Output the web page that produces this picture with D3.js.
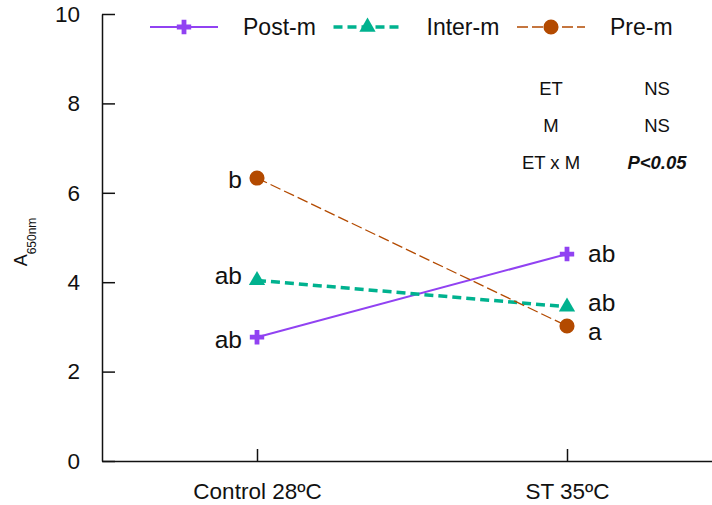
<!DOCTYPE html>
<html>
<head>
<meta charset="utf-8">
<script src="https://cdn.jsdelivr.net/npm/d3@7"></script>
<style>
  body { margin: 0; background: #fff; }
  text { font-family: "Liberation Sans", Arial, sans-serif; fill: #111; }
</style>
</head>
<body>
<div id="graphContainer"></div>
<script>
// chart values
const categories = ["Control 28ºC", "ST 35ºC"];
const seriesNames = ["Post-m", "Inter-m", "Pre-m"];
const postM = [2.77, 4.63];
const interM = [4.04, 3.45];
const preM = [6.33, 3.02];
const postLetters = ["ab", "ab"];
const interLetters = ["ab", "ab"];
const preLetters = ["b", "a"];
const yTicks = [0, 2, 4, 6, 8, 10];
const statRows = ["ET", "M", "ET x M"];
const statValues = ["NS", "NS", "P<0.05"];

const W = 712, H = 505;
const margin = { top: 14, left: 102, bottom: 44 };

const svg = d3.select("#graphContainer").append("svg")
    .attr("width", W)
    .attr("height", H);

const x = d3.scalePoint().domain(categories).range([margin.left, 722]).padding(0.5);
const y = d3.scaleLinear().domain([0, 10]).range([H - margin.bottom, margin.top]);

// axes
const yAxis = svg.append("g")
    .attr("transform", `translate(${margin.left},0)`)
    .call(d3.axisLeft(y).tickValues(yTicks).tickSizeInner(-13).tickSizeOuter(0).tickPadding(22));

const xAxis = svg.append("g")
    .attr("transform", `translate(0,${H - margin.bottom})`)
    .call(d3.axisBottom(x).tickSizeInner(-12).tickSizeOuter(0).tickPadding(23));

svg.selectAll(".domain, .tick line")
    .style("stroke", "#111")
    .style("stroke-width", "1.5px");
svg.selectAll(".tick text")
    .style("font-size", "22.5px")
    .style("font-family", "Liberation Sans, Arial, sans-serif")
    .attr("fill", "#111");
xAxis.selectAll(".tick text").attr("dy", "0.68em");

// y label with subscript
const yLab = svg.append("text")
    .attr("transform", "translate(27,242) rotate(-90)")
    .attr("text-anchor", "middle");
yLab.append("tspan").style("font-size", "18px").text("A");
yLab.append("tspan").style("font-size", "12px").attr("dy", 9).text("650nm");

const series = [
    { name: seriesNames[0], values: postM, letters: postLetters, color: "#9142f2", width: 2, dash: null, symbol: d3.symbolCross, size: 115, labelDy: [11, 8] },
    { name: seriesNames[1], values: interM, letters: interLetters, color: "#00b28f", width: 3.5, dash: "9,5", symbol: d3.symbolTriangle, size: 115, labelDy: [4, 4] },
    { name: seriesNames[2], values: preM, letters: preLetters, color: "#b34a00", width: 1.3, dash: "11,4", symbol: d3.symbolCircle, size: 180, labelDy: [10, 14] }
];

const line = d3.line()
    .x((d, i) => x(categories[i]))
    .y(d => y(d));

series.forEach(s => {
    svg.append("path")
        .datum(s.values)
        .attr("d", line)
        .attr("fill", "none")
        .attr("stroke", s.color)
        .attr("stroke-width", s.width)
        .attr("stroke-dasharray", s.dash);
});

series.forEach(s => {
    svg.selectAll(null)
        .data(s.values)
        .enter()
        .append("path")
        .attr("d", d3.symbol(s.symbol, s.size))
        .attr("transform", (d, i) => `translate(${x(categories[i])},${y(d)})`)
        .attr("fill", s.color);

    // significance letters: left of first point, right of second
    svg.selectAll(null)
        .data(s.values)
        .enter()
        .append("text")
        .attr("x", (d, i) => i === 0 ? x(categories[i]) - 15 : x(categories[i]) + 21)
        .attr("y", (d, i) => y(d) + s.labelDy[i])
        .attr("text-anchor", (d, i) => i === 0 ? "end" : "start")
        .style("font-size", "24.5px")
        .text((d, i) => s.letters[i]);
});

// legend
const legend = svg.append("g").attr("transform", "translate(150,27)");
series.forEach((s, i) => {
    const g = legend.append("g").attr("transform", `translate(${i * 183.5},0)`);
    g.append("line")
        .attr("x1", 0).attr("x2", 68)
        .attr("stroke", s.color)
        .attr("stroke-width", s.width)
        .attr("stroke-dasharray", s.dash);
    g.append("path")
        .attr("d", d3.symbol(s.symbol, s.size))
        .attr("transform", "translate(34,0)")
        .attr("fill", s.color);
    g.append("text")
        .attr("x", 93)
        .attr("y", 8)
        .style("font-size", "23px")
        .text(s.name);
});

// ANOVA summary
const stats = svg.append("g");
stats.selectAll(".rowName")
    .data(statRows)
    .enter()
    .append("text")
    .attr("x", 551)
    .attr("y", (d, i) => 94.5 + i * 37)
    .attr("text-anchor", "middle")
    .style("font-size", "18.5px")
    .text(d => d);
stats.selectAll(".rowVal")
    .data(statValues)
    .enter()
    .append("text")
    .attr("x", 657)
    .attr("y", (d, i) => 94.5 + i * 37)
    .attr("text-anchor", "middle")
    .style("font-size", "18.5px")
    .style("font-weight", (d, i) => i === 2 ? "bold" : null)
    .style("font-style", (d, i) => i === 2 ? "italic" : null)
    .text(d => d);
</script>
</body>
</html>
